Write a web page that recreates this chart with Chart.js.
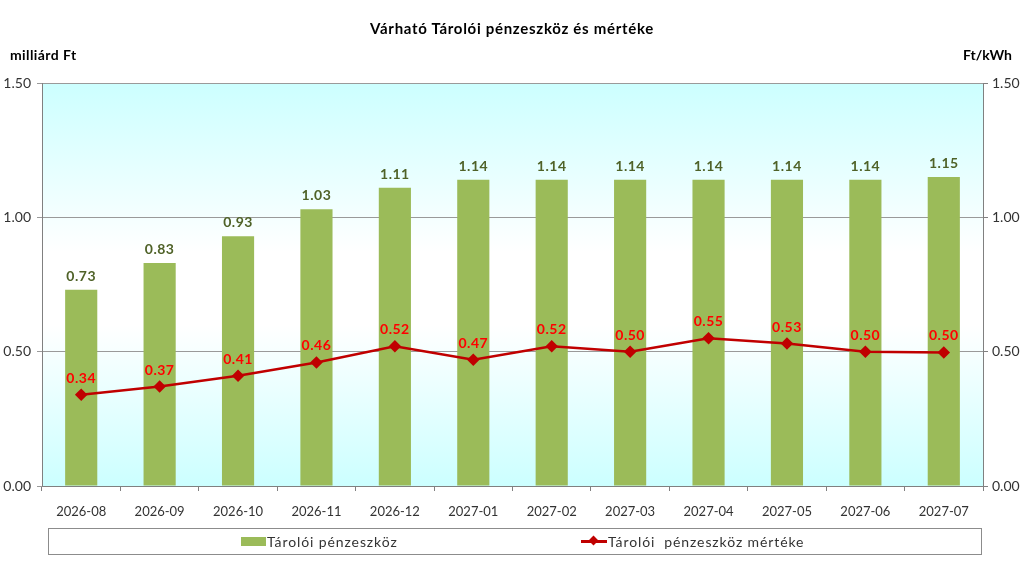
<!DOCTYPE html>
<html>
<head>
<meta charset="utf-8">
<script src="https://cdn.jsdelivr.net/npm/chart.js@4"></script>
<style>
    body { margin: 0; background: #fff; font-family: Lato, sans-serif; }
    #wrap { position: relative; width: 1024px; height: 568px; }
    canvas { position: absolute; left: 0; top: 0; }
    .txt { position: absolute; white-space: pre; color: #000; }
    #title { left: 0; width: 1024px; top: 19px; text-align: center; font-weight: bold; font-size: 15px; letter-spacing: 0.7px; }
    #unitLeft { left: 10px; top: 46px; font-weight: bold; font-size: 14px; letter-spacing: 0.4px; }
    #unitRight { left: 963px; top: 46px; font-weight: bold; font-size: 14px; }
    #legend { position: absolute; left: 48px; top: 528px; width: 934px; height: 27px; border: 1px solid #8c8c8c; box-sizing: border-box; }
    .item { position: absolute; top: 4px; font-size: 14px; color: #333; white-space: pre; display: flex; align-items: center; letter-spacing: 0.9px; }
    .swatch { width: 25px; height: 9px; background: #9BBB59; margin-right: 1px; }
    .lineKey { position: relative; width: 26px; height: 3px; background: #C00000; margin-right: 1px; }
    .lineKey i { position: absolute; left: 9px; top: -3px; width: 7px; height: 7px; background: #C00000; transform: rotate(45deg); }
</style>
</head>
<body>
<div id="wrap">
    <canvas id="chart" width="1024" height="568"></canvas>
    <div class="txt" id="title">Várható Tárolói pénzeszköz és mértéke</div>
    <div class="txt" id="unitLeft">milliárd Ft</div>
    <div class="txt" id="unitRight">Ft/kWh</div>
    <div id="legend">
        <div class="item" style="left:192px"><span class="swatch"></span>Tárolói pénzeszköz</div>
        <div class="item" style="left:532px"><span class="lineKey"><i></i></span>Tárolói  pénzeszköz mértéke</div>
    </div>
</div>
<script>
const months = ["2026-08", "2026-09", "2026-10", "2026-11", "2026-12", "2027-01",
    "2027-02", "2027-03", "2027-04", "2027-05", "2027-06", "2027-07"];
const storageFunds = [0.73, 0.83, 0.93, 1.03, 1.11, 1.14, 1.14, 1.14, 1.14, 1.14, 1.14, 1.15];
const storageRate = [0.34, 0.37, 0.41, 0.46, 0.52, 0.47, 0.52, 0.50, 0.55, 0.53, 0.50, 0.497];
const yTicks = [0, 0.5, 1, 1.5];

const tickFont = { family: "Lato", size: 14 };

// cyan -> white -> cyan fill behind the plot
const plotBackground = {
    id: "plotBackground",
    beforeDraw(chart) {
        const { ctx, chartArea: a } = chart;
        const g = ctx.createLinearGradient(0, a.top, 0, a.bottom);
        g.addColorStop(0, "#ccffff");
        g.addColorStop(0.42, "#ffffff");
        g.addColorStop(0.6, "#ffffff");
        g.addColorStop(1, "#ccffff");
        ctx.save();
        ctx.fillStyle = g;
        ctx.fillRect(a.left, a.top, a.right - a.left, a.bottom - a.top);
        ctx.restore();
    }
};

const valueLabels = {
    id: "valueLabels",
    afterDatasetsDraw(chart) {
        const ctx = chart.ctx;
        ctx.save();
        ctx.textAlign = "center";
        ctx.textBaseline = "alphabetic";
        ctx.font = "bold 14px Lato";
        ctx.letterSpacing = "0.5px";
        chart.data.datasets.forEach((ds, i) => {
            const meta = chart.getDatasetMeta(i);
            meta.data.forEach((el, j) => {
                const v = ds.data[j].toFixed(2);
                if (ds.type === "bar") {
                    ctx.fillStyle = "#4F6228";
                    ctx.fillText(v, el.x, el.y - 9);
                } else {
                    ctx.fillStyle = "#FF0000";
                    ctx.fillText(v, el.x, el.y - 12);
                }
            });
        });
        ctx.restore();
    }
};

new Chart(document.getElementById("chart"), {
    data: {
        labels: months,
        datasets: [
            {
                type: "line",
                label: "Tárolói  pénzeszköz mértéke",
                data: storageRate,
                yAxisID: "y1",
                borderColor: "#C00000",
                backgroundColor: "#C00000",
                borderWidth: 2.5,
                pointStyle: "rectRot",
                pointRadius: 4.5,
                tension: 0,
                order: 0
            },
            {
                type: "bar",
                label: "Tárolói pénzeszköz",
                data: storageFunds,
                yAxisID: "y",
                backgroundColor: "#9BBB59",
                categoryPercentage: 1,
                barPercentage: 0.41,
                order: 1
            }
        ]
    },
    options: {
        responsive: false,
        animation: false,
        layout: { padding: { top: 83, left: 0, right: 0, bottom: 0 } },
        plugins: {
            legend: { display: false },
            title: { display: false },
            tooltip: { enabled: false }
        },
        scales: {
            x: {
                offset: true,
                grid: { offset: true, drawOnChartArea: false, color: "#808080", tickLength: 5 },
                border: { color: "#808080" },
                ticks: { color: "#333", font: { family: "Lato", size: 13 }, padding: 13, maxRotation: 0 },
                afterFit(scale) { scale.height = 82; }
            },
            y: {
                position: "left",
                min: 0,
                max: 1.5,
                afterBuildTicks(scale) { scale.ticks = yTicks.map(v => ({ value: v })); },
                grid: { color: "#9a9a9a", tickLength: 5 },
                border: { color: "#808080" },
                ticks: { color: "#333", font: tickFont, padding: 6, callback: v => v.toFixed(2) },
                afterFit(scale) { scale.width = 42; }
            },
            y1: {
                position: "right",
                min: 0,
                max: 1.5,
                afterBuildTicks(scale) { scale.ticks = yTicks.map(v => ({ value: v })); },
                grid: { drawOnChartArea: false, color: "#808080", tickLength: 5 },
                border: { color: "#808080" },
                ticks: { color: "#333", font: tickFont, padding: 4, callback: v => v.toFixed(2) },
                afterFit(scale) { scale.width = 41; }
            }
        }
    },
    plugins: [plotBackground, valueLabels]
});
</script>
</body>
</html>
